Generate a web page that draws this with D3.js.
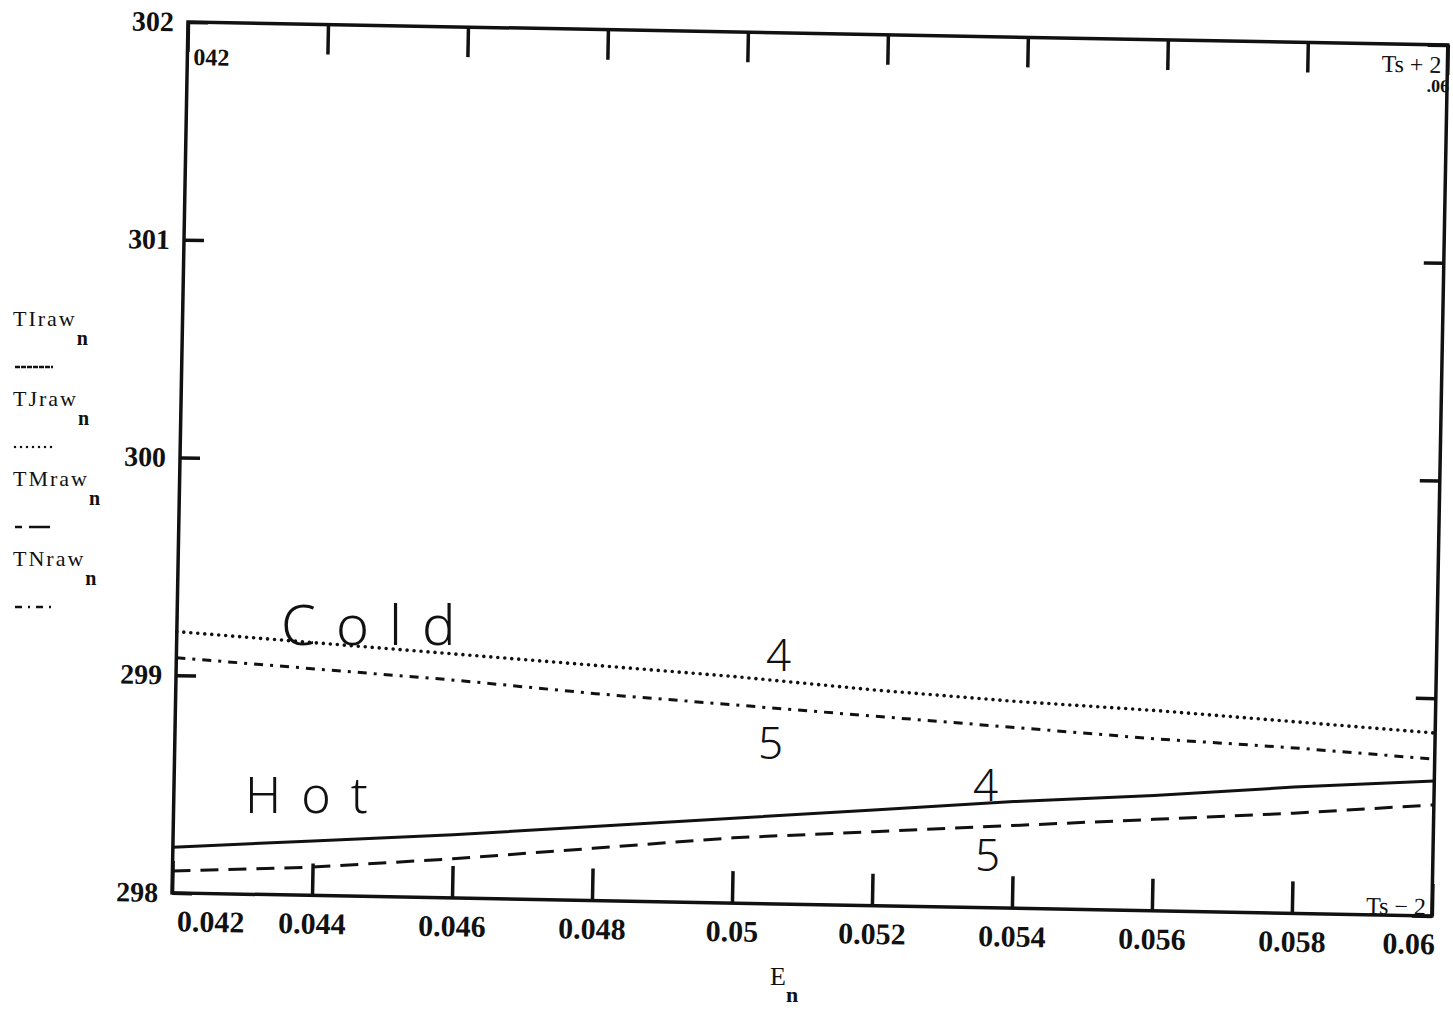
<!DOCTYPE html>
<html>
<head>
<meta charset="utf-8">
<script src="https://cdn.jsdelivr.net/npm/d3@7"></script>
<style>
  body { margin: 0; background: #fff; }
  text { fill: #111; }
</style>
</head>
<body>
<script>
// values
const eValues = [0.042, 0.044, 0.046, 0.048, 0.050, 0.052, 0.054, 0.056, 0.058, 0.060];
const tiRaw = [298.21, 298.25, 298.29, 298.34, 298.39, 298.44, 298.49, 298.53, 298.58, 298.62];
const tjRaw = [299.20, 299.16, 299.12, 299.08, 299.04, 298.99, 298.95, 298.92, 298.88, 298.84];
const tmRaw = [298.10, 298.13, 298.18, 298.24, 298.30, 298.34, 298.38, 298.42, 298.46, 298.51];
const tnRaw = [299.08, 299.04, 299.00, 298.95, 298.91, 298.87, 298.83, 298.79, 298.76, 298.72];

const xTicks = [0.042, 0.044, 0.046, 0.048, 0.05, 0.052, 0.054, 0.056, 0.058, 0.06];
const xTickLabels = ['0.042', '0.044', '0.046', '0.048', '0.05', '0.052', '0.054', '0.056', '0.058', '0.06'];
const yTicks = [298, 299, 300, 301, 302];
const seriesNames = ['TIraw', 'TJraw', 'TMraw', 'TNraw'];

const width = 1453;
const height = 1011;
const innerWidth = 1260;
const innerHeight = 871;
const ink = '#111';
const serif = '"Liberation Serif", "DejaVu Serif", serif';
const hand = '"Noto Sans", "DejaVu Sans", sans-serif';

const series = [
  { name: seriesNames[0], values: tiRaw, dash: null, legendDash: '5,1', width: 3, cap: 'butt' },
  { name: seriesNames[1], values: tjRaw, dash: '0,7', legendDash: '0,6', width: 3.6, cap: 'round' },
  { name: seriesNames[2], values: tmRaw, dash: '18,10', legendDash: '7,7,14,0', width: 3, cap: 'butt' },
  { name: seriesNames[3], values: tnRaw, dash: '9,7,3,7', legendDash: '7,6,2,6', width: 3, cap: 'butt' }
];

const svg = d3.select('body').append('svg')
  .attr('width', width)
  .attr('height', height)
  .style('background', '#fff');

// the scan is tilted about one degree (written as a matrix)
const tilt = 1.05 * Math.PI / 180;
const cosT = Math.cos(tilt).toFixed(5);
const sinT = Math.sin(tilt).toFixed(5);
const chart = svg.append('g')
  .attr('transform', `matrix(${cosT},${sinT},${-sinT},${cosT},188,22)`);

const xScale = d3.scaleLinear().domain([0.042, 0.06]).range([0, innerWidth]);
const yScale = d3.scaleLinear().domain([298, 302]).range([innerHeight, 0]);

// bottom axis: inward ticks, labels below
const bottomAxis = chart.append('g')
  .attr('transform', `translate(0,${innerHeight})`)
  .call(d3.axisBottom(xScale).tickValues(xTicks)
    .tickFormat((d, i) => xTickLabels[i])
    .tickSize(-32).tickPadding(17));
bottomAxis.selectAll('text')
  .attr('font-family', serif).attr('font-size', 30).attr('font-weight', 'bold')
  .attr('fill', ink);
bottomAxis.select('.tick:first-of-type text').attr('text-anchor', 'start').attr('x', 5);
bottomAxis.select('.tick:last-of-type text').attr('text-anchor', 'end').attr('x', 3);

const topAxis = chart.append('g')
  .call(d3.axisTop(xScale).tickValues(xTicks).tickSize(-30));
topAxis.selectAll('text').remove();

const leftAxis = chart.append('g')
  .call(d3.axisLeft(yScale).tickValues(yTicks).tickFormat(d3.format('d'))
    .tickSize(-20).tickPadding(14));
leftAxis.selectAll('text')
  .attr('font-family', serif).attr('font-size', 28).attr('font-weight', 'bold')
  .attr('fill', ink);

const rightAxis = chart.append('g')
  .attr('transform', `translate(${innerWidth},0)`)
  .call(d3.axisRight(yScale).tickValues(yTicks).tickSize(-20));
rightAxis.selectAll('text').remove();

chart.selectAll('.domain').remove();
chart.selectAll('.tick line').attr('stroke', ink).attr('stroke-width', 3.5);

chart.append('rect')
  .attr('width', innerWidth)
  .attr('height', innerHeight)
  .attr('fill', 'none')
  .attr('stroke', ink)
  .attr('stroke-width', 3.5);

// corner limit labels
chart.append('text')
  .attr('x', 6).attr('y', 43)
  .attr('font-family', serif).attr('font-size', 24).attr('font-weight', 'bold')
  .text('042');
chart.append('text')
  .attr('x', innerWidth - 6).attr('y', 28)
  .attr('text-anchor', 'end')
  .attr('font-family', serif).attr('font-size', 24)
  .text('Ts + 2');
chart.append('text')
  .attr('x', innerWidth + 2).attr('y', 47)
  .attr('text-anchor', 'end')
  .attr('font-family', serif).attr('font-size', 18).attr('font-weight', 'bold')
  .text('.06');
chart.append('text')
  .attr('x', innerWidth - 6).attr('y', innerHeight - 1)
  .attr('text-anchor', 'end')
  .attr('font-family', serif).attr('font-size', 24)
  .text('Ts − 2');

const line = d3.line()
  .x((d, i) => xScale(eValues[i]))
  .y(d => yScale(d));

series.forEach(s => {
  chart.append('path')
    .datum(s.values)
    .attr('fill', 'none')
    .attr('stroke', ink)
    .attr('stroke-width', s.width)
    .attr('stroke-linecap', s.cap)
    .attr('stroke-dasharray', s.dash)
    .attr('d', line);
});

// legend on the left, Mathcad style: name with subscript, then line sample
const legend = svg.append('g').attr('transform', 'translate(13,326)');
series.forEach((s, i) => {
  const item = legend.append('g').attr('transform', `translate(0,${i * 80})`);
  const label = item.append('text')
    .attr('font-family', serif).attr('font-size', 22)
    .attr('letter-spacing', 2);
  label.append('tspan').text(s.name);
  label.append('tspan').attr('dy', 19).attr('font-size', 20)
    .attr('font-weight', 'bold').attr('letter-spacing', 0).text('n');
  item.append('line')
    .attr('x1', 2).attr('x2', 40)
    .attr('y1', 41).attr('y2', 41)
    .attr('stroke', ink)
    .attr('stroke-width', 2.5)
    .attr('stroke-linecap', s.cap)
    .attr('stroke-dasharray', s.legendDash);
});

// x axis title
const xTitle = svg.append('text')
  .attr('x', 770).attr('y', 985)
  .attr('font-family', serif).attr('font-size', 26);
xTitle.append('tspan').text('E');
xTitle.append('tspan').attr('dy', 17).attr('font-size', 22).attr('font-weight', 'bold').text('n');

// handwritten notes on the printout
const notes = svg.append('g')
  .attr('font-family', hand)
  .attr('font-weight', 300);
notes.append('text').attr('x', 281).attr('y', 645)
  .attr('font-size', 56).attr('letter-spacing', 20).text('Cold');
notes.append('text').attr('x', 245).attr('y', 813)
  .attr('font-size', 50).attr('letter-spacing', 20).text('Hot');
notes.append('text').attr('x', 766).attr('y', 671)
  .attr('font-size', 44).text('4');
notes.append('text').attr('x', 758).attr('y', 759)
  .attr('font-size', 44).text('5');
notes.append('text').attr('x', 973).attr('y', 801)
  .attr('font-size', 44).text('4');
notes.append('text').attr('x', 975).attr('y', 871)
  .attr('font-size', 44).text('5');
</script>
</body>
</html>
